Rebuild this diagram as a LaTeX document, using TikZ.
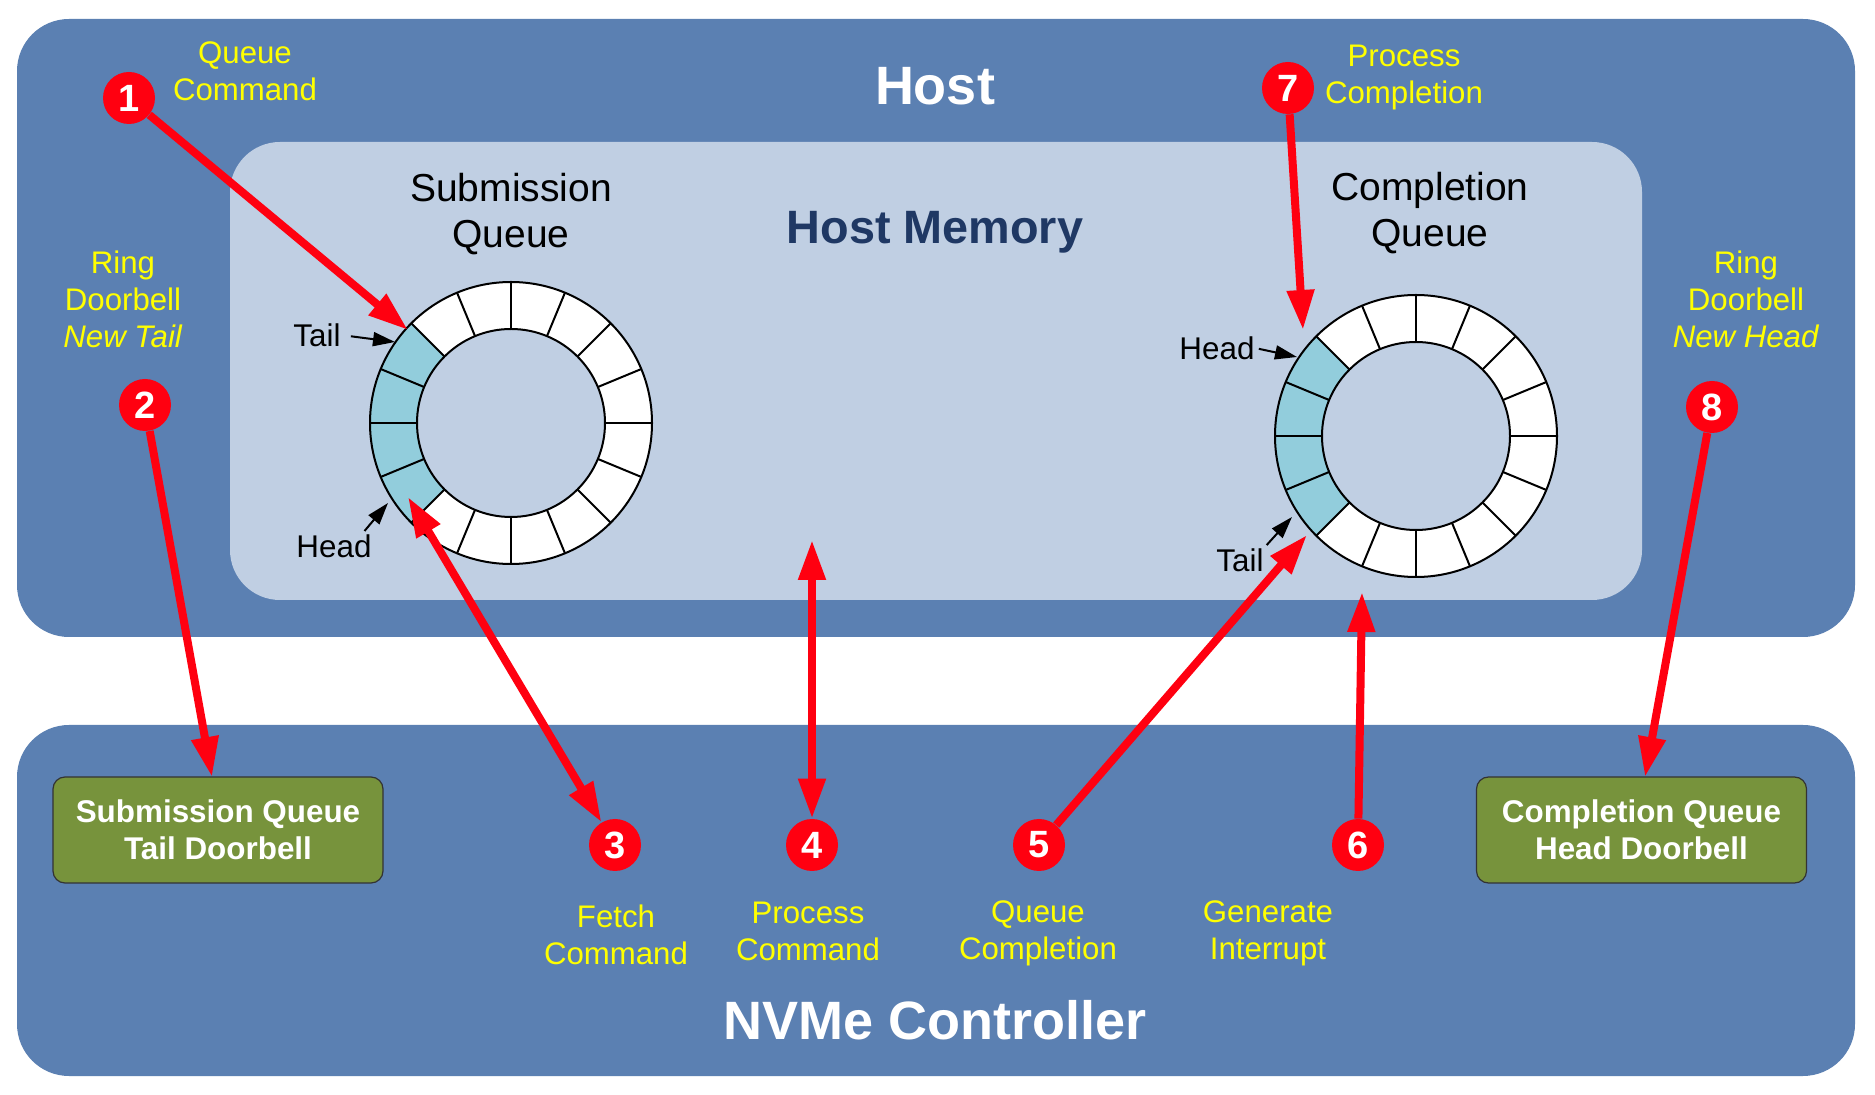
\documentclass[tikz,border=0pt]{standalone}
\usepackage{fontspec}
\setmainfont{Liberation Sans}
\usetikzlibrary{arrows.meta}
\definecolor{hostblue}{RGB}{91,128,178}
\definecolor{membg}{RGB}{192,207,227}
\definecolor{navy}{RGB}{31,56,100}
\definecolor{cellteal}{RGB}{146,205,220}
\definecolor{olivebox}{RGB}{119,147,60}
\definecolor{lblyellow}{RGB}{255,255,0}
\definecolor{arrred}{RGB}{255,0,16}
\newcommand\qring[2]{%
  \begin{scope}[shift={(#1,#2)}]
    \foreach \a in {0,22.5,...,337.5}{%
      \fill[white] (\a:70.5pt) arc[start angle=\a, delta angle=22.5, radius=70.5pt]
        -- (\a+22.5:47pt) arc[start angle=\a+22.5, delta angle=-22.5, radius=47pt] -- cycle;}
    \foreach \a in {135,157.5,180,202.5}{%
      \fill[cellteal] (\a:70.5pt) arc[start angle=\a, delta angle=22.5, radius=70.5pt]
        -- (\a+22.5:47pt) arc[start angle=\a+22.5, delta angle=-22.5, radius=47pt] -- cycle;}
    \draw[line width=1pt] (0,0) circle[radius=70.5pt];
    \draw[line width=1pt] (0,0) circle[radius=47pt];
    \foreach \a in {0,22.5,...,337.5}{\draw[line width=1pt] (\a:47pt) -- (\a:70.5pt);}
  \end{scope}}
\begin{document}
\begin{tikzpicture}[x=0.5pt,y=-0.5pt,
  panel/.style={fill=hostblue, rounded corners=26pt},
  lbl/.style={text=lblyellow, font=\fontsize{15.6}{18.5}\selectfont, align=center, inner sep=0pt},
  num/.style={circle, fill=arrred, text=white, font=\bfseries\fontsize{19}{20}\selectfont, minimum size=26pt, inner sep=0pt},
  redarrow/.style={draw=arrred, line width=4pt, -{Triangle[length=20pt,width=13pt]}},
  redboth/.style={draw=arrred, line width=4pt, {Triangle[length=20pt,width=13pt]}-{Triangle[length=20pt,width=13pt]}},
  blkarrow/.style={draw=black, line width=1pt, -{Triangle[length=11pt,width=7pt]}},
  ptr/.style={font=\fontsize{15.7}{18}\selectfont, inner sep=0pt},
  qtitle/.style={font=\fontsize{19.5}{23}\selectfont, align=center, inner sep=0pt},
  doorbell/.style={fill=olivebox, draw=black!80, line width=0.6pt, rounded corners=6pt,
    minimum width=165pt, minimum height=53pt, inner sep=0pt, text=white,
    font=\bfseries\fontsize{15.7}{18.5}\selectfont, align=center}]
\useasboundingbox (0,0) rectangle (1875,1095);
\fill[white] (0,0) rectangle (1875,1095);
% panels
\fill[panel] (17,19) rectangle (1855,637);
\fill[membg, rounded corners=25pt] (230,142) rectangle (1642,600);
\fill[panel] (17,725) rectangle (1855,1076);
% titles
\node[text=white, font=\bfseries\fontsize{27}{30}\selectfont, inner sep=0pt] (host) at (935,86) {Host};
\node[text=navy, font=\bfseries\fontsize{23.4}{26}\selectfont, inner sep=0pt] (hmem) at (935,232) {Host Memory};
\node[text=white, font=\bfseries\fontsize{27}{30}\selectfont, inner sep=0pt] (nvme) at (935,1020) {NVMe Controller};
\node[qtitle] (sqt) at (511,214) {Submission\\Queue};
\node[qtitle] (cqt) at (1430,213) {Completion\\Queue};
% rings
\qring{511}{423}
\qring{1416}{436}
% pointer labels
\node[ptr] (sqtail) at (317,335) {Tail};
\node[ptr] (sqhead) at (334,546) {Head};
\node[ptr] (cqhead) at (1217,348) {Head};
\node[ptr] (cqtail) at (1240,560) {Tail};
\coordinate (bt1) at (395,342);
\coordinate (bt2) at (388,503);
\coordinate (bt3) at (1297,357);
\coordinate (bt4) at (1292,517);
\draw[blkarrow, shorten <=5pt] (sqtail.east) -- (bt1);
\draw[blkarrow, shorten <=2pt] ([xshift=-5pt]sqhead.north east) -- (bt2);
\draw[blkarrow, shorten <=2pt] (cqhead.east) -- (bt3);
\draw[blkarrow, shorten <=2pt] (cqtail.north east) -- (bt4);
% doorbells
\node[doorbell] (sqdb) at (218,830) {Submission Queue\\Tail Doorbell};
\node[doorbell] (cqdb) at (1641.5,830) {Completion Queue\\Head Doorbell};
% yellow labels
\node[lbl] (l1) at (245,71) {Queue\\Command};
\node[lbl] (l7) at (1404,78) {Process\\Completion};
\node[lbl] (l2) at (123,299) {Ring\\Doorbell\\\textit{New Tail}};
\node[lbl] (l8) at (1746,299) {Ring\\Doorbell\\\textit{New Head}};
\node[lbl] (l3) at (616,934.5) {Fetch\\Command};
\node[lbl] (l4) at (808,931) {Process\\Command};
\node[lbl] (l5) at (1038,933.5) {Queue\\Completion};
\node[lbl] (l6) at (1268,933.5) {Generate\\Interrupt};
% number circles
\node[num] (n1) at (129,98) {1};
\node[num] (n2) at (145,405) {2};
\node[num] (n3) at (615,845) {3};
\node[num] (n4) at (812,845) {4};
\node[num] (n5) at (1039,845) {5};
\node[num] (n6) at (1358,845) {6};
\node[num] (n7) at (1288,88) {7};
\node[num] (n8) at (1712,407) {8};
% red arrow targets
\coordinate (t1) at (408,330);
\coordinate (t2) at (212,777);
\coordinate (t3) at (408,497);
\coordinate (t4) at (812,540);
\coordinate (t5) at (1307,535);
\coordinate (t6) at (1362,592);
\coordinate (t7) at (1303,330);
\coordinate (t8) at (1645,777);
\draw[redarrow] (n1) -- (t1);
\draw[redarrow] (n2) -- (t2);
\draw[redboth] (n3) -- (t3);
\draw[redboth] (n4) -- (t4);
\draw[redarrow] (n5) -- (t5);
\draw[redarrow] (n6) -- (t6);
\draw[redarrow] (n7) -- (t7);
\draw[redarrow] (n8) -- (t8);
\end{tikzpicture}
\end{document}
